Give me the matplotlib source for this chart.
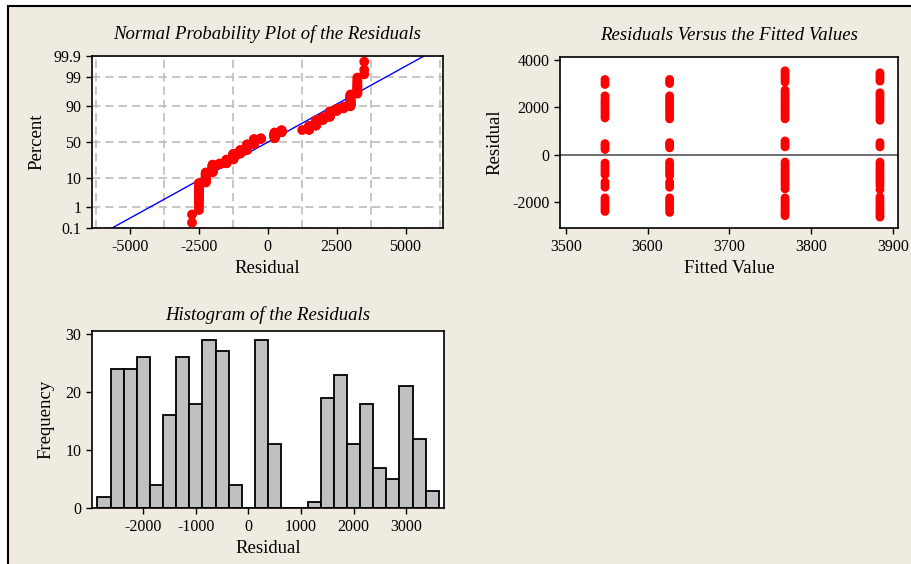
import numpy as np
import matplotlib
matplotlib.use("Agg")
import matplotlib.pyplot as plt
from matplotlib.patches import Rectangle
from statistics import NormalDist

plt.rcParams['font.family'] = ['Liberation Serif', 'DejaVu Serif']
plt.rcParams['axes.unicode_minus'] = False

# histogram of the residuals: bin centres (width 250) and counts
bin_centers = [-2750, -2500, -2250, -2000, -1750, -1500, -1250, -1000, -750, -500, -250, 0,
               250, 500, 750, 1000, 1250, 1500, 1750, 2000, 2250, 2500, 2750, 3000, 3250, 3500]
hist_counts = [2, 24, 24, 26, 4, 16, 26, 18, 29, 27, 4, 0,
               29, 11, 0, 0, 1, 19, 23, 11, 18, 7, 5, 21, 12, 3]
bin_width = 250

# residuals versus fitted values
fitted_values = [3548, 3627, 3768, 3884]
res_3548 = [2970, 3070, 3180,
            1560, 1660, 1760, 1860, 1960, 2060, 2160, 2260, 2360, 2490,
            230, 320, 400, 477,
            -340, -440, -540, -640, -730, -830,
            -1140, -1250, -1360,
            -1810, -1910, -2010, -2110, -2200, -2290, -2380]
res_3627 = [3010, 3100, 3180,
            1520, 1620, 1720, 1820, 1920, 2020, 2120, 2220, 2320, 2400, 2490,
            300, 380, 450, 520,
            -300, -400, -500, -600, -700, -790, -870,
            -1140, -1250, -1360,
            -1810, -1900, -2000, -2100, -2200, -2300, -2420]
res_3768 = [3070, 3170, 3270, 3370, 3460, 3545,
            1520, 1620, 1720, 1820, 1920, 2020, 2120, 2220, 2320, 2420, 2520, 2620, 2730,
            340, 420, 500, 590,
            -300, -400, -500, -600, -700, -800, -900, -1000, -1100, -1200, -1300, -1430,
            -1810, -1910, -2010, -2110, -2210, -2310, -2410, -2490, -2560]
res_3884 = [3110, 3200, 3290, 3380, 3460,
            1460, 1560, 1660, 1760, 1860, 1960, 2060, 2160, 2260, 2360, 2460, 2540, 2620,
            340, 420, 520,
            -300, -400, -500, -600, -700, -800, -900, -1000, -1100, -1200, -1300, -1460,
            -1770, -1870, -1970, -2070, -2170, -2270, -2370, -2470, -2550, -2620]
group_residuals = [res_3548, res_3627, res_3768, res_3884]

prob_ticks = [0.1, 1, 10, 50, 90, 99, 99.9]
prob_ticklabels = ['0.1', '1', '10', '50', '90', '99', '99.9']

beige = '#EFEBE1'
title_kw = dict(fontsize=13.5, style='italic')
label_kw = dict(fontsize=13.5)


def style_axes(ax):
    for s in ax.spines.values():
        s.set_linewidth(1.2)
        s.set_color('black')
    ax.tick_params(direction='out', length=4, width=1, labelsize=11.5, colors='black')
    ax.set_facecolor('white')


def main():
    fig = plt.figure(figsize=(9.11, 5.64), dpi=100, facecolor='white')
    fig.patches.append(Rectangle((8 / 911, -0.05), 1.1, 1.05 - 6 / 564, transform=fig.transFigure,
                                 facecolor=beige, edgecolor='black', lw=1.5, zorder=-10))

    nd = NormalDist()
    z = lambda p: nd.inv_cdf(p / 100.0)

    ############################ NORMAL PROBABILITY PLOT ######################
    ax1 = fig.add_axes([0.1007, 0.5952, 0.3859, 0.3055])
    style_axes(ax1)
    resid = np.sort(np.repeat(bin_centers, hist_counts).astype(float))
    n = len(resid)
    ranks = (np.arange(1, n + 1) - 0.3) / (n + 0.4) * 100
    zs = np.array([z(p) for p in ranks])
    mu, sd = resid.mean(), resid.std(ddof=1)
    zl = np.array([z(0.1), z(99.9)])
    ax1.plot(mu + sd * zl, zl, color='#0000FF', lw=1.0, zorder=2)
    ax1.scatter(resid, zs, s=50, color='#FF0000', edgecolors='none', zorder=3)
    ax1.set_xlim(-6390, 6370)
    ax1.set_ylim(z(0.1), z(99.9))
    ax1.set_yticks([z(p) for p in prob_ticks])
    ax1.set_yticklabels(prob_ticklabels)
    ax1.set_xticks([-5000, -2500, 0, 2500, 5000])
    ax1.set_xticks(np.arange(-6250, 6251, 1250), minor=True)
    ax1.tick_params(axis='x', which='minor', length=0)
    ax1.grid(True, which='minor', axis='x', color='#BDBDBD', lw=1.2, ls=(0, (5, 3)), zorder=0)
    ax1.grid(True, which='major', axis='y', color='#BDBDBD', lw=1.2, ls=(0, (5, 3)), zorder=0)
    ax1.set_axisbelow(True)
    ax1.set_title('Normal Probability Plot of the Residuals', pad=12, **title_kw)
    ax1.set_xlabel('Residual', labelpad=4, **label_kw)
    ax1.set_ylabel('Percent', labelpad=6, **label_kw)

    ############################ RESIDUALS VS FITS ############################
    ax2 = fig.add_axes([0.6147, 0.5952, 0.371, 0.3043])
    style_axes(ax2)
    for fv, rs in zip(fitted_values, group_residuals):
        ax2.scatter(np.full(len(rs), fv), rs, s=40, color='#FF0000', edgecolors='none', zorder=3)
    ax2.axhline(0, color='#555555', lw=1.2, zorder=2)
    ax2.set_xlim(3493, 3906)
    ax2.set_ylim(-3090, 4140)
    ax2.set_xticks([3500, 3600, 3700, 3800, 3900])
    ax2.set_yticks([-2000, 0, 2000, 4000])
    ax2.set_title('Residuals Versus the Fitted Values', pad=12, **title_kw)
    ax2.set_xlabel('Fitted Value', labelpad=4, **label_kw)
    ax2.set_ylabel('Residual', labelpad=6, **label_kw)

    ############################ HISTOGRAM ####################################
    ax3 = fig.add_axes([0.1007, 0.0988, 0.3867, 0.3143])
    style_axes(ax3)
    ax3.bar(bin_centers, hist_counts, width=bin_width, color='#C0C0C0',
            edgecolor='black', linewidth=1.3, zorder=2)
    ax3.set_xlim(-2983, 3723)
    ax3.set_ylim(0, 30.5)
    ax3.set_xticks([-2000, -1000, 0, 1000, 2000, 3000])
    ax3.set_yticks([0, 10, 20, 30])
    ax3.set_title('Histogram of the Residuals', pad=8, **title_kw)
    ax3.set_xlabel('Residual', labelpad=4, **label_kw)
    ax3.set_ylabel('Frequency', labelpad=8, **label_kw)

    fig.savefig('out.png', dpi=100, facecolor=fig.get_facecolor())


if __name__ == "__main__":
    main()
